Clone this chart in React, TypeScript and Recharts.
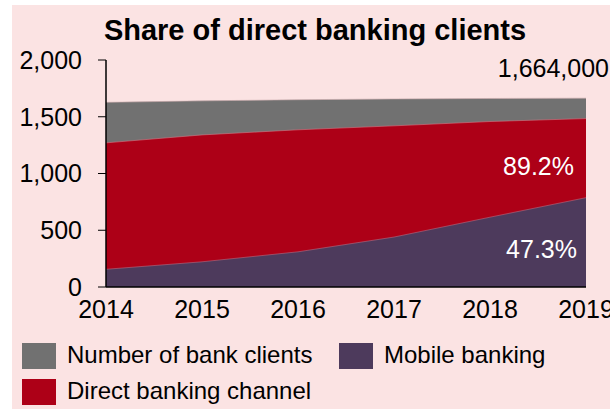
import { AreaChart, Area, XAxis, YAxis, LabelList } from 'recharts';

const years = ['2014', '2015', '2016', '2017', '2018', '2019'];
const bankClients = [1627, 1640, 1650, 1657, 1661, 1664];
const directBanking = [1270, 1340, 1385, 1420, 1458, 1484];
const mobileBanking = [156, 222, 310, 440, 615, 787];
const yTicks = [0, 500, 1000, 1500, 2000];

const totalLabel = '1,664,000';
const directLabel = '89.2%';
const mobileLabel = '47.3%';

const GRAY = '#717171';
const RED = '#ad0017';
const PURPLE = '#4d3a5c';
const BG = '#fbe3e3';

const data = years.map((year, i) => ({
  year,
  total: bankClients[i],
  direct: directBanking[i],
  mobile: mobileBanking[i],
}));

const last = years.length - 1;
const font = 'Arial, "Liberation Sans", sans-serif';

// end-of-series label, placed relative to the last point
function endLabel(text: string, dx: number, dy: number, color: string) {
  return (props: any) => {
    if (props.index !== last) return null;
    const x = props.x ?? props.viewBox?.x;
    const y = props.y ?? props.viewBox?.y;
    return (
      <text x={x + dx} y={y + dy} textAnchor="end" fill={color} fontSize={25} fontFamily={font}>
        {text}
      </text>
    );
  };
}

const legendItems = [
  { name: 'Number of bank clients', color: GRAY, left: 10, top: 338 },
  { name: 'Mobile banking', color: PURPLE, left: 327, top: 338 },
  { name: 'Direct banking channel', color: RED, left: 10, top: 374 },
];

export default function App() {
  return (
    <div
      style={{
        position: 'absolute',
        left: 12,
        top: 5,
        width: 598,
        height: 404,
        background: BG,
        overflow: 'hidden',
        fontFamily: font,
      }}
    >
      <div
        style={{
          position: 'absolute',
          left: 303,
          top: 11,
          transform: 'translateX(-50%)',
          whiteSpace: 'nowrap',
          fontSize: 29,
          lineHeight: '29px',
          fontWeight: 'bold',
        }}
      >
        Share of direct banking clients
      </div>
      <AreaChart width={598} height={330} data={data} margin={{ top: 55, right: 24, bottom: 0, left: 0 }}>
        <XAxis
          dataKey="year"
          axisLine={{ stroke: '#000', strokeWidth: 1.5 }}
          tickLine={false}
          tickSize={0}
          tickMargin={13}
          height={48}
          interval={0}
          tick={{ fill: '#000', fontSize: 25, fontFamily: font }}
        />
        <YAxis
          domain={[0, 2000]}
          ticks={yTicks}
          width={94}
          axisLine={{ stroke: '#000', strokeWidth: 1.5 }}
          tickLine={{ stroke: '#000' }}
          tickSize={8}
          tickMargin={16}
          tick={{ fill: '#000', fontSize: 25, fontFamily: font }}
          tickFormatter={(v: number) => v.toLocaleString('en-US')}
        />
        <Area
          type="linear"
          dataKey="total"
          fill={GRAY}
          fillOpacity={1}
          stroke="#c9a9ab"
          strokeWidth={0.6}
          isAnimationActive={false}
        >
          <LabelList dataKey="total" content={endLabel(totalLabel, 23, -21, '#000')} />
        </Area>
        <Area
          type="linear"
          dataKey="direct"
          fill={RED}
          fillOpacity={1}
          stroke="#d07a86"
          strokeWidth={0.6}
          isAnimationActive={false}
        >
          <LabelList dataKey="direct" content={endLabel(directLabel, -12, 56, '#fff')} />
        </Area>
        <Area
          type="linear"
          dataKey="mobile"
          fill={PURPLE}
          fillOpacity={1}
          stroke="#b86a80"
          strokeWidth={0.6}
          isAnimationActive={false}
        >
          <LabelList dataKey="mobile" content={endLabel(mobileLabel, -9, 60, '#fff')} />
        </Area>
      </AreaChart>
      {legendItems.map((item) => (
        <div key={item.name} style={{ position: 'absolute', left: item.left, top: item.top, height: 26 }}>
          <div
            style={{
              position: 'absolute',
              left: 0,
              top: 0,
              width: 34,
              height: 26,
              background: item.color,
            }}
          />
          <div
            style={{
              position: 'absolute',
              left: 45,
              top: 0,
              fontSize: 24,
              lineHeight: '24px',
              whiteSpace: 'nowrap',
              color: '#000',
            }}
          >
            {item.name}
          </div>
        </div>
      ))}
    </div>
  );
}
